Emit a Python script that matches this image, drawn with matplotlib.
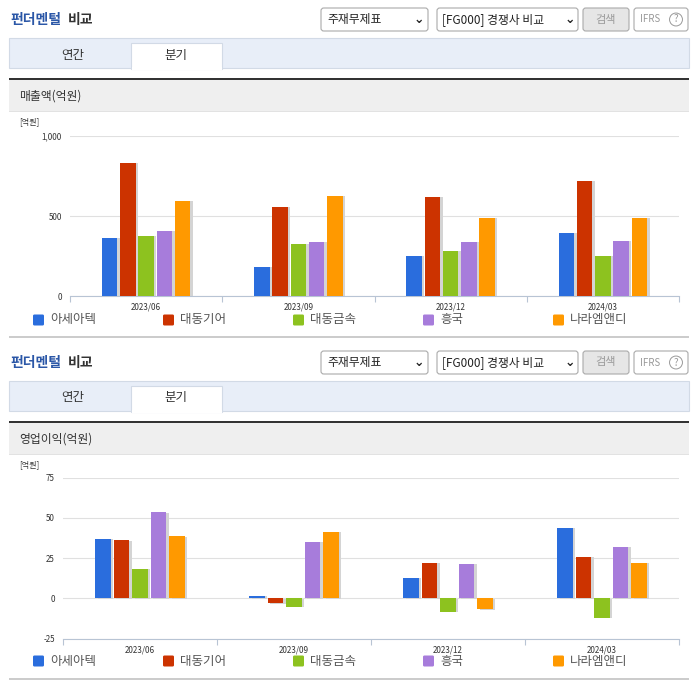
import numpy as np
import matplotlib
matplotlib.use('Agg')
import matplotlib.pyplot as plt
from matplotlib.patches import Rectangle, FancyBboxPatch
from matplotlib.transforms import offset_copy

plt.rcParams['font.family'] = ['Noto Sans CJK KR', 'DejaVu Sans']

# data
quarters = ['2023/06', '2023/09', '2023/12', '2024/03']
companies = ['아세아텍', '대동기어', '대동금속', '흥국', '나라엠앤디']
colors = ['#2a6ddd', '#cc3300', '#8dc21f', '#a77cdb', '#ff9900']

sales = [
    [364, 183, 252, 396],   # 아세아텍
    [833, 558, 621, 721],   # 대동기어
    [377, 327, 283, 252],   # 대동금속
    [408, 340, 340, 346],   # 흥국
    [596, 627, 489, 489],   # 나라엠앤디
]
op_profit = [
    [37, 1.6, 12.8, 43.9],
    [36, -3.1, 22.1, 25.8],
    [18.4, -5.2, -8.3, -12],
    [53.6, 35.2, 21.5, 32],
    [38.7, 41.4, -6.6, 22.1],
]

W, H = 696, 684
fig = plt.figure(figsize=(W / 100, H / 100), dpi=100)


def fx(x):
    return x / W


def fy(y):
    return 1 - y / H


def rect(x0, y0, x1, y1, **kw):
    fig.patches.append(Rectangle((fx(x0), fy(y1)), fx(x1) - fx(x0), fy(y0) - fy(y1),
                                 transform=fig.transFigure, **kw))


def text(x, y, s, **kw):
    fig.text(fx(x), fy(y), s, **kw)


def header(dy, band_label):
    # title
    text(10, 20 + dy, '펀더멘털', color='#2b57a7', fontsize=10, fontweight='bold', va='center')
    text(68, 20 + dy, '비교', color='#333333', fontsize=10, fontweight='bold', va='center')
    # dropdowns / buttons
    for x0, x1, fc in [(321, 428, 'white'), (437, 578, 'white'),
                       (583, 629, '#e6e6e6'), (634, 688, 'white')]:
        fig.patches.append(FancyBboxPatch((fx(x0), fy(31 + dy)), fx(x1) - fx(x0), fy(8 + dy) - fy(31 + dy),
                                          boxstyle='round,pad=0,rounding_size=0.004',
                                          transform=fig.transFigure, fc=fc, ec='#aaaaaa', lw=0.8))
    text(327, 19.5 + dy, '주재무제표', fontsize=8.5, color='#222222', va='center')
    text(419, 19.5 + dy, '⌄', fontsize=9, color='#222222', va='center', ha='center', fontweight='bold')
    text(442, 19.5 + dy, '[FG000] 경쟁사 비교', fontsize=8.5, color='#222222', va='center')
    text(570, 19.5 + dy, '⌄', fontsize=9, color='#222222', va='center', ha='center', fontweight='bold')
    text(606, 19.5 + dy, '검색', fontsize=8, color='#999999', va='center', ha='center')
    text(640, 19.5 + dy, 'IFRS', fontsize=7, color='#999999', va='center')
    text(676, 19.5 + dy, '?', fontsize=7, color='#999999', va='center', ha='center',
         bbox=dict(boxstyle='circle,pad=0.15', fc='white', ec='#999999', lw=0.7))
    # tabs
    rect(9, 38 + dy, 689, 68 + dy, fc='#e8eef8', ec='#d2dae6', lw=0.8)
    rect(131, 43 + dy, 222, 69 + dy, fc='white', ec='#d2dae6', lw=0.8)
    rect(131.5, 67 + dy, 221.5, 70 + dy, fc='white', ec='none')
    text(73, 55 + dy, '연간', fontsize=9, color='#333333', va='center', ha='center')
    text(176, 55 + dy, '분기', fontsize=9, color='#333333', va='center', ha='center')
    # band
    rect(9, 80 + dy, 689, 111 + dy, fc='#efefef', ec='none')
    rect(9, 77.5 + dy, 689, 80 + dy, fc='#333333', ec='none')
    rect(9, 110.5 + dy, 689, 111.5 + dy, fc='#e2e2e2', ec='none')
    text(19, 96 + dy, band_label, fontsize=8.5, color='#333333', va='center')


def chart(box, values, ylim, yticks, yfmt, unit_y, legend_y, bottom_y):
    left, right, top, bottom = box
    ax = fig.add_axes([fx(left), fy(bottom), fx(right) - fx(left), fy(top) - fy(bottom)])
    n = len(values)
    x = np.arange(len(quarters))
    width = 0.102
    step = 0.12
    shadow = offset_copy(ax.transData, fig=fig, x=2.5, y=-0.5, units='dots')
    for i, (vals, c) in enumerate(zip(values, colors)):
        pos = x + (i - (n - 1) / 2) * step
        ax.bar(pos, vals, width=width, color='#d4d4d4', transform=shadow, zorder=2)
        ax.bar(pos, vals, width=width, color=c, zorder=3)
    ax.set_xlim(-0.5, len(quarters) - 0.5)
    ax.set_ylim(*ylim)
    ax.set_yticks(yticks)
    ax.set_yticklabels([yfmt(v) for v in yticks], fontsize=5.8, color='#333333')
    ax.set_xticks(np.arange(len(quarters) + 1) - 0.5)
    ax.set_xticklabels([])
    ax.set_xticks(x, minor=True)
    ax.set_xticklabels(quarters, minor=True, fontsize=5.8, color='#333333')
    ax.tick_params(axis='x', which='major', length=4, color='#b8c4d4', width=0.8)
    ax.tick_params(axis='x', which='minor', length=0, pad=5)
    ax.tick_params(axis='y', length=0, pad=5.8)
    ax.grid(axis='y', color='#e0e0e0', lw=0.8, zorder=0)
    ax.set_axisbelow(True)
    for s in ['top', 'right', 'left']:
        ax.spines[s].set_visible(False)
    ax.spines['bottom'].set_color('#b8c4d4')
    ax.spines['bottom'].set_linewidth(0.8)
    text(19, unit_y, '[억원]', fontsize=5.8, color='#333333', va='center')
    # legend
    for i, (name, c) in enumerate(zip(companies, colors)):
        lx = 33 + 130 * i
        fig.patches.append(FancyBboxPatch((fx(lx), fy(legend_y + 5.5)), fx(11), 11 / H,
                                          boxstyle='round,pad=0,rounding_size=0.002',
                                          transform=fig.transFigure, fc=c, ec='none'))
        text(lx + 17, legend_y, name, fontsize=9, color='#555555', va='center')
    rect(9, bottom_y, 689, bottom_y + 2, fc='#cccccc', ec='none')
    return ax


header(0, '매출액(억원)')
chart((70, 679, 136, 296), sales, (0, 1000), [0, 500, 1000],
      lambda v: f'{v:,}', 122, 320, 336)

header(343, '영업이익(억원)')
chart((63, 679, 477.7, 638.7), op_profit, (-25, 75), [-25, 0, 25, 50, 75],
      lambda v: f'{v}', 465, 661, 678)

fig.savefig('out.png', dpi=100)
